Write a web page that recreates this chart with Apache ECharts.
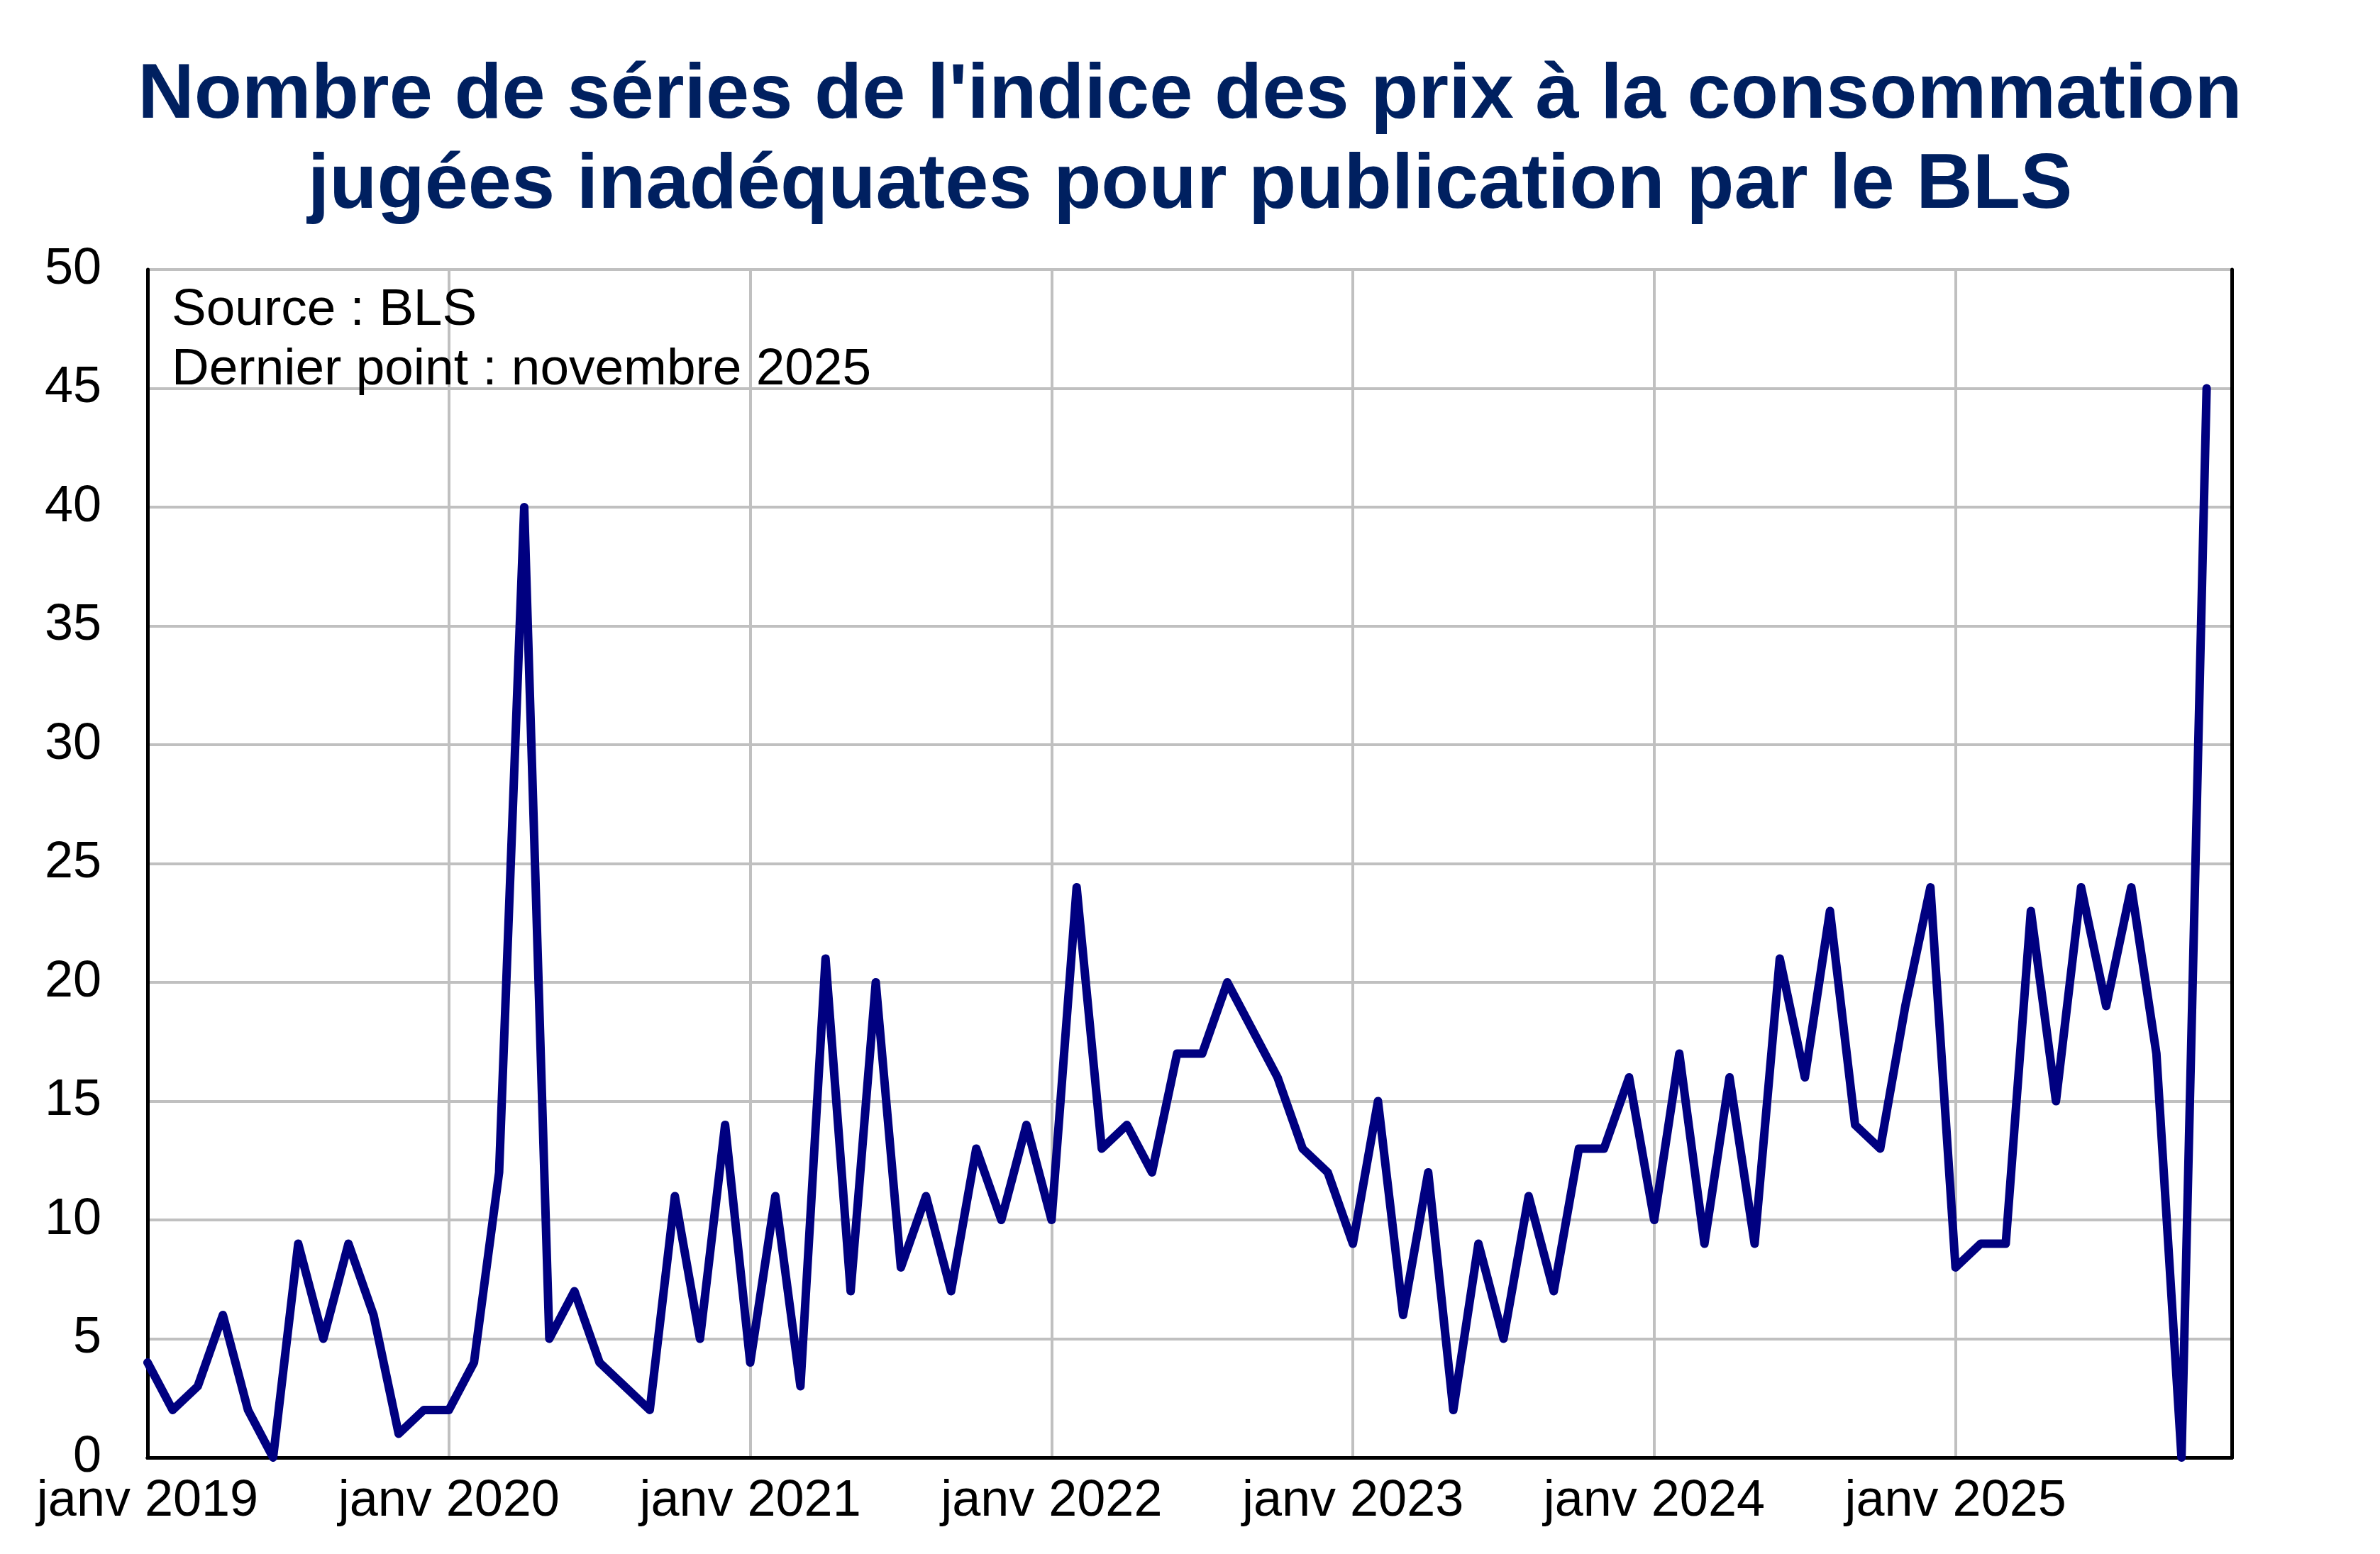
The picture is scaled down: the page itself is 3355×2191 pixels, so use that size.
<!DOCTYPE html>
<html>
<head>
<meta charset="utf-8">
<script src="https://cdn.jsdelivr.net/npm/echarts@6/dist/echarts.min.js"></script>
<style>
html,body{margin:0;padding:0;background:#fff;}
#chart{width:3355px;height:2191px;}
</style>
</head>
<body>
<div id="chart"></div>
<script>
const years = [2019, 2020, 2021, 2022, 2023, 2024, 2025];
const monthNames = ['janv','févr','mars','avr','mai','juin','juil','août','sept','oct','nov','déc'];
const values2019 = [4, 2, 3, 6, 2, 0, 9, 5, 9, 6, 1, 2];
const values2020 = [2, 4, 12, 40, 5, 7, 4, 3, 2, 11, 5, 14];
const values2021 = [4, 11, 3, 21, 7, 20, 8, 11, 7, 13, 10, 14];
const values2022 = [10, 24, 13, 14, 12, 17, 17, 20, 18, 16, 13, 12];
const values2023 = [9, 15, 6, 12, 2, 9, 5, 11, 7, 13, 13, 16];
const values2024 = [10, 17, 9, 16, 9, 21, 16, 23, 14, 13, 19, 24];
const values2025 = [8, 9, 9, 23, 15, 24, 19, 24, 17, 0, 45];
const yTicks = [0, 5, 10, 15, 20, 25, 30, 35, 40, 45, 50];

const titleText = "Nombre de séries de l'indice des prix à la consommation\njugées inadéquates pour publication par le BLS";
const noteText = "Source : BLS\nDernier point : novembre 2025";

const categories = [];
years.forEach(y => monthNames.forEach(m => categories.push(m + ' ' + y)));
const values = [].concat(values2019, values2020, values2021, values2022, values2023, values2024, values2025);

const FONT = '"Liberation Sans", Arial, sans-serif';
const isJan = (i) => i % 12 === 0;

const chart = echarts.init(document.getElementById('chart'), null, {renderer: 'canvas'});
chart.setOption({
  animation: false,
  backgroundColor: '#fff',
  title: [{
    text: titleText,
    left: 'center',
    top: 67,
    textStyle: {fontFamily: FONT, fontWeight: 'bold', fontSize: 110, lineHeight: 127, color: '#002060'}
  }, {
    text: noteText,
    left: 237,
    top: 391,
    textStyle: {fontFamily: FONT, fontWeight: 'normal', fontSize: 73, lineHeight: 84, color: '#000'}
  }],
  grid: {left: 208, top: 380, width: 2938, height: 1675, containLabel: false},
  xAxis: [{
    type: 'category',
    data: categories,
    boundaryGap: false,
    axisLine: {show: true, lineStyle: {color: '#000', width: 5}},
    axisTick: {show: false},
    axisLabel: {
      interval: (i) => isJan(i),
      fontFamily: FONT, fontSize: 72, color: '#000', margin: 26
    },
    splitLine: {show: true, interval: (i) => isJan(i) && i > 0, lineStyle: {color: '#c0c0c0', width: 4}}
  }, {
    type: 'category',
    data: categories,
    boundaryGap: false,
    position: 'top',
    axisLine: {show: true, lineStyle: {color: '#000', width: 5}},
    axisTick: {show: false},
    axisLabel: {show: false},
    splitLine: {show: false}
  }],
  yAxis: [{
    type: 'value',
    min: yTicks[0],
    max: yTicks[yTicks.length - 1],
    interval: 5,
    axisLine: {show: true, lineStyle: {color: '#000', width: 5}},
    axisTick: {show: false},
    axisLabel: {fontFamily: FONT, fontSize: 72, color: '#000', margin: 65},
    splitLine: {show: true, lineStyle: {color: '#c0c0c0', width: 4}}
  }, {
    type: 'value',
    min: yTicks[0],
    max: yTicks[yTicks.length - 1],
    interval: 5,
    position: 'right',
    axisLine: {show: true, lineStyle: {color: '#000', width: 5}},
    axisTick: {show: false},
    axisLabel: {show: false},
    splitLine: {show: false}
  }],
  series: [{
    type: 'line',
    data: values,
    xAxisIndex: 0,
    yAxisIndex: 0,
    showSymbol: false,
    symbol: 'none',
    lineStyle: {color: '#000080', width: 12, join: 'round', cap: 'round'},
    clip: true,
    z: 5
  }]
});
</script>
</body>
</html>
